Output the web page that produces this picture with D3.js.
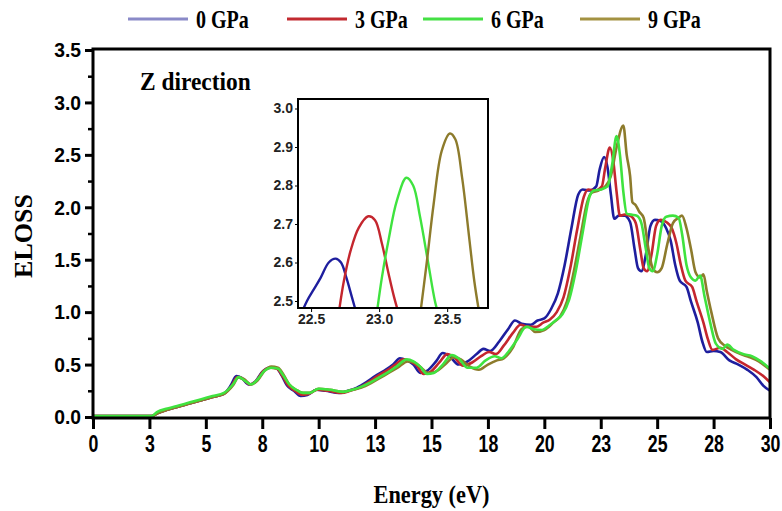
<!DOCTYPE html>
<html>
<head>
<meta charset="utf-8">
<script src="https://cdn.jsdelivr.net/npm/d3@7"></script>
<style>
  body { margin: 0; background: #fff; }
  svg { display: block; }
</style>
</head>
<body>
<svg id="chart" width="782" height="511"></svg>
<script>
// series names and colours
const seriesNames = ["0 GPa", "3 GPa", "6 GPa", "9 GPa"];
const xTickValues = [0, 2.5, 5, 7.5, 10, 12.5, 15, 17.5, 20, 22.5, 25, 27.5, 30];
const xTickLabels = ["0", "3", "5", "8", "10", "13", "15", "18", "20", "23", "25", "28", "30"];
const yTickValues = [0, 0.5, 1.0, 1.5, 2.0, 2.5, 3.0, 3.5];
const insetXTicks = [22.5, 23.0, 23.5];
const insetYTicks = [2.5, 2.6, 2.7, 2.8, 2.9, 3.0];

// [energy eV, ELOSS]
const eloss0 = [[0,0.01],[1,0.01],[2,0.01],[2.6,0.01],[2.9,0.04],[3.3,0.07],[3.8,0.1],[4.3,0.13],[4.8,0.16],[5.3,0.19],[5.8,0.22],[6.1,0.3],[6.35,0.39],[6.6,0.37],[6.9,0.31],[7.2,0.34],[7.5,0.43],[7.8,0.47],[8.1,0.47],[8.35,0.4],[8.6,0.3],[8.9,0.25],[9.2,0.2],[9.5,0.21],[9.9,0.26],[10.3,0.25],[10.9,0.23],[11.3,0.25],[11.7,0.28],[12.1,0.33],[12.5,0.39],[12.9,0.44],[13.3,0.5],[13.6,0.56],[13.9,0.54],[14.2,0.5],[14.5,0.42],[14.8,0.44],[15.2,0.53],[15.5,0.61],[15.8,0.58],[16.2,0.5],[16.6,0.53],[17.0,0.6],[17.3,0.65],[17.6,0.63],[18.0,0.72],[18.4,0.84],[18.7,0.92],[19.0,0.89],[19.4,0.88],[19.7,0.92],[20.0,0.94],[20.3,1.03],[20.6,1.18],[20.9,1.45],[21.2,1.8],[21.5,2.12],[21.7,2.17],[22.0,2.16],[22.3,2.2],[22.45,2.36],[22.65,2.48],[22.8,2.38],[22.95,2.12],[23.1,1.89],[23.3,1.92],[23.55,1.92],[23.8,1.86],[24.0,1.6],[24.15,1.42],[24.3,1.39],[24.5,1.55],[24.7,1.82],[24.9,1.88],[25.15,1.87],[25.4,1.8],[25.6,1.68],[25.8,1.45],[26.0,1.3],[26.3,1.24],[26.5,1.1],[26.8,0.9],[27.0,0.72],[27.2,0.62],[27.5,0.63],[27.8,0.62],[28.2,0.54],[28.6,0.5],[29.0,0.45],[29.4,0.38],[29.7,0.3],[30,0.25]];
const eloss3 = [[0,0.01],[2.6,0.01],[2.9,0.04],[3.3,0.07],[3.8,0.1],[4.3,0.13],[4.8,0.16],[5.3,0.19],[5.8,0.22],[6.15,0.3],[6.4,0.38],[6.65,0.36],[6.95,0.31],[7.25,0.35],[7.55,0.44],[7.85,0.47],[8.15,0.46],[8.4,0.39],[8.65,0.3],[8.95,0.25],[9.25,0.21],[9.55,0.22],[9.95,0.26],[10.4,0.25],[11.0,0.23],[11.4,0.25],[11.8,0.28],[12.2,0.33],[12.6,0.39],[13.0,0.44],[13.4,0.5],[13.75,0.55],[14.05,0.53],[14.35,0.49],[14.65,0.41],[14.95,0.43],[15.35,0.52],[15.7,0.6],[16.0,0.57],[16.4,0.49],[16.8,0.52],[17.2,0.58],[17.55,0.62],[17.85,0.6],[18.2,0.68],[18.6,0.8],[18.95,0.88],[19.25,0.86],[19.65,0.86],[19.95,0.9],[20.25,0.93],[20.55,1.0],[20.85,1.14],[21.15,1.42],[21.45,1.78],[21.75,2.1],[21.95,2.17],[22.25,2.16],[22.55,2.2],[22.7,2.38],[22.9,2.57],[23.05,2.45],[23.2,2.15],[23.35,1.92],[23.55,1.93],[23.8,1.92],[24.05,1.85],[24.25,1.6],[24.4,1.42],[24.55,1.39],[24.75,1.55],[24.95,1.82],[25.15,1.88],[25.4,1.86],[25.65,1.8],[25.85,1.66],[26.05,1.45],[26.25,1.3],[26.55,1.24],[26.75,1.1],[27.05,0.9],[27.25,0.74],[27.45,0.64],[27.8,0.66],[28.1,0.62],[28.5,0.55],[28.9,0.5],[29.3,0.45],[29.7,0.39],[30,0.33]];
const eloss6 = [[0,0.01],[2.6,0.01],[2.85,0.05],[3.3,0.08],[3.8,0.11],[4.3,0.14],[4.8,0.17],[5.3,0.2],[5.8,0.23],[6.2,0.31],[6.45,0.38],[6.7,0.35],[7.0,0.31],[7.3,0.36],[7.6,0.44],[7.9,0.47],[8.2,0.46],[8.45,0.39],[8.7,0.31],[9.0,0.26],[9.3,0.23],[9.6,0.23],[10.0,0.27],[10.5,0.26],[11.1,0.24],[11.5,0.26],[11.9,0.29],[12.3,0.33],[12.7,0.38],[13.1,0.43],[13.5,0.49],[13.9,0.55],[14.2,0.53],[14.5,0.48],[14.8,0.41],[15.1,0.42],[15.5,0.5],[15.9,0.59],[16.2,0.56],[16.6,0.47],[17.0,0.47],[17.4,0.54],[17.8,0.58],[18.1,0.56],[18.4,0.62],[18.8,0.74],[19.2,0.86],[19.5,0.84],[19.9,0.83],[20.2,0.87],[20.5,0.92],[20.8,0.98],[21.1,1.12],[21.4,1.4],[21.7,1.76],[22.0,2.1],[22.2,2.16],[22.5,2.17],[22.8,2.2],[23.0,2.4],[23.2,2.68],[23.35,2.5],[23.5,2.15],[23.65,1.94],[23.85,1.93],[24.1,1.92],[24.3,1.85],[24.5,1.6],[24.65,1.42],[24.8,1.39],[25.0,1.55],[25.2,1.82],[25.4,1.91],[25.7,1.92],[25.95,1.9],[26.1,1.75],[26.3,1.45],[26.5,1.33],[26.7,1.3],[26.9,1.35],[27.1,1.15],[27.35,0.9],[27.6,0.7],[27.9,0.65],[28.1,0.69],[28.4,0.64],[28.8,0.6],[29.2,0.58],[29.6,0.53],[30,0.46]];
const eloss9 = [[0,0.01],[2.6,0.01],[2.9,0.04],[3.3,0.07],[3.8,0.1],[4.3,0.13],[4.8,0.16],[5.3,0.19],[5.8,0.22],[6.2,0.3],[6.45,0.38],[6.7,0.36],[7.0,0.31],[7.3,0.35],[7.6,0.44],[7.9,0.48],[8.2,0.47],[8.45,0.4],[8.7,0.31],[9.0,0.26],[9.3,0.23],[9.6,0.23],[10.0,0.27],[10.5,0.26],[11.1,0.24],[11.5,0.26],[11.9,0.28],[12.3,0.32],[12.7,0.37],[13.1,0.42],[13.5,0.47],[13.95,0.53],[14.25,0.52],[14.55,0.47],[14.85,0.42],[15.15,0.43],[15.6,0.5],[16.0,0.57],[16.3,0.55],[16.7,0.48],[17.1,0.45],[17.5,0.5],[17.9,0.54],[18.2,0.56],[18.6,0.66],[19.0,0.84],[19.3,0.86],[19.6,0.81],[20.0,0.83],[20.4,0.9],[20.7,0.96],[21.0,1.1],[21.3,1.38],[21.6,1.72],[21.9,2.05],[22.1,2.14],[22.4,2.16],[22.7,2.2],[22.95,2.3],[23.2,2.57],[23.5,2.78],[23.65,2.5],[23.8,2.3],[23.9,2.05],[24.05,2.02],[24.2,1.96],[24.4,1.9],[24.6,1.62],[24.8,1.42],[25.0,1.38],[25.2,1.42],[25.45,1.65],[25.7,1.85],[25.95,1.9],[26.1,1.92],[26.3,1.8],[26.5,1.6],[26.7,1.38],[26.9,1.33],[27.05,1.36],[27.2,1.2],[27.4,1.0],[27.7,0.75],[28.0,0.68],[28.3,0.64],[28.7,0.6],[29.1,0.57],[29.5,0.53],[30,0.45]];

// zoomed peaks for the inset
const peak0 = [[22.42,2.46],[22.47,2.5],[22.52,2.53],[22.57,2.56],[22.63,2.6],[22.68,2.61],[22.72,2.6],[22.76,2.56],[22.8,2.51],[22.84,2.46]];
const peak3 = [[22.7,2.46],[22.74,2.55],[22.79,2.63],[22.85,2.69],[22.92,2.72],[22.97,2.71],[23.02,2.65],[23.07,2.57],[23.11,2.51],[23.15,2.46]];
const peak6 = [[22.98,2.46],[23.02,2.56],[23.07,2.66],[23.13,2.76],[23.2,2.82],[23.25,2.8],[23.3,2.72],[23.36,2.6],[23.41,2.5],[23.44,2.46]];
const peak9 = [[23.3,2.46],[23.35,2.6],[23.4,2.75],[23.46,2.89],[23.52,2.935],[23.56,2.92],[23.61,2.82],[23.66,2.67],[23.7,2.55],[23.74,2.46]];

const svg = d3.select("#chart");
const colors = ["#1e1e9e", "#c4262e", "#3fe33f", "#8d7b2c"];
const legendColors = ["#8a8ac8", "#c22a30", "#44e044", "#a39242"];
const serif = "'Liberation Serif', 'Times New Roman', serif";
const sans = "'Liberation Sans', Arial, sans-serif";

const plotL = 93, plotR = 770, plotT = 49, plotB = 418;
const x = d3.scaleLinear().domain([0, 30]).range([plotL, plotR]);
const y = d3.scaleLinear().domain([0, 3.5]).range([417, 50]);

const line = d3.line()
  .x(d => x(d[0]))
  .y(d => y(d[1]))
  .curve(d3.curveMonotoneX);

const main = [eloss0, eloss3, eloss9, eloss6];
const mainColors = [colors[0], colors[1], colors[3], colors[2]];

const defs = svg.append("defs");
defs.append("clipPath").attr("id", "plotclip")
  .append("rect").attr("x", plotL).attr("y", plotT).attr("width", plotR - plotL).attr("height", plotB - plotT);

svg.append("g").attr("clip-path", "url(#plotclip)")
  .selectAll("path").data(main).enter().append("path")
  .attr("d", line)
  .attr("fill", "none")
  .attr("stroke", (d, i) => mainColors[i])
  .attr("stroke-width", 2.6)
  .attr("stroke-linejoin", "round");

// frame
svg.append("rect")
  .attr("x", plotL).attr("y", plotT)
  .attr("width", plotR - plotL).attr("height", plotB - plotT)
  .attr("fill", "none").attr("stroke", "#000").attr("stroke-width", 3);

// x axis
const xAxis = svg.append("g")
  .attr("transform", `translate(0,${plotB})`)
  .call(d3.axisBottom(x).tickValues(xTickValues).tickSize(11).tickPadding(6)
    .tickFormat((d, i) => xTickLabels[i]));
xAxis.select(".domain").remove();
xAxis.selectAll("line").attr("stroke-width", 3);
xAxis.selectAll("text")
  .attr("transform", "scale(0.74,1)")
  .style("font-family", sans)
  .style("font-weight", "bold").style("font-size", "24px").attr("fill", "#000");

// y axis
const yAxis = svg.append("g")
  .attr("transform", `translate(${plotL},0)`)
  .call(d3.axisLeft(y).tickValues(yTickValues).tickSize(8).tickPadding(5)
    .tickFormat(d3.format(".1f")));
yAxis.select(".domain").remove();
yAxis.selectAll("line").attr("stroke-width", 3);
yAxis.selectAll("text")
  .attr("transform", "scale(0.92,1)")
  .style("font-family", sans)
  .style("font-weight", "bold").style("font-size", "21px").attr("fill", "#000");

const yMinor = svg.append("g")
  .attr("transform", `translate(${plotL},0)`)
  .call(d3.axisLeft(y).tickValues(yTickValues.slice(0, -1).map(v => v + 0.25)).tickSize(5).tickFormat(""));
yMinor.select(".domain").remove();
yMinor.selectAll("line").attr("stroke-width", 2.5);

// axis titles
svg.append("text")
  .attr("transform", `translate(${(plotL + plotR) / 2},503) scale(0.86,1)`)
  .attr("text-anchor", "middle")
  .style("font-family", serif)
  .style("font-weight", "bold").style("font-size", "26px")
  .text("Energy (eV)");

svg.append("text")
  .attr("transform", "translate(32,236) rotate(-90)")
  .attr("text-anchor", "middle")
  .style("font-family", serif)
  .style("font-weight", "bold").style("font-size", "26px")
  .text("ELOSS");

svg.append("text")
  .attr("transform", "translate(140,90) scale(0.9,1)")
  .style("font-family", serif)
  .style("font-weight", "bold").style("font-size", "26px")
  .text("Z direction");

// legend
const legendX = [128, 287, 423, 580];
const lg = svg.append("g").selectAll("g").data(seriesNames).enter().append("g")
  .attr("transform", (d, i) => `translate(${legendX[i]},19)`);
lg.append("line")
  .attr("x1", 0).attr("x2", 60).attr("y1", 0).attr("y2", 0)
  .attr("stroke", (d, i) => legendColors[i]).attr("stroke-width", 3);
lg.append("text")
  .attr("transform", "translate(68,9) scale(0.8,1)")
  .style("font-family", serif)
  .style("font-weight", "bold").style("font-size", "25px")
  .text(d => d);

// inset
const iL = 298, iR = 488, iT = 99, iB = 308;
const ix = d3.scaleLinear().domain([22.404, 23.8]).range([iL, iR]);
const iy = d3.scaleLinear().domain([2.5, 2.9]).range([301, 147]);

defs.append("clipPath").attr("id", "insetclip")
  .append("rect").attr("x", iL).attr("y", iT).attr("width", iR - iL).attr("height", iB - iT);

svg.append("rect")
  .attr("x", iL).attr("y", iT).attr("width", iR - iL).attr("height", iB - iT)
  .attr("fill", "#fff");

const insetLine = d3.line()
  .x(d => ix(d[0]))
  .y(d => iy(d[1]))
  .curve(d3.curveCatmullRom);

svg.append("g").attr("clip-path", "url(#insetclip)")
  .selectAll("path").data([peak0, peak3, peak6, peak9]).enter().append("path")
  .attr("d", insetLine)
  .attr("fill", "none")
  .attr("stroke", (d, i) => colors[i])
  .attr("stroke-width", 2.4);

svg.append("rect")
  .attr("x", iL).attr("y", iT).attr("width", iR - iL).attr("height", iB - iT)
  .attr("fill", "none").attr("stroke", "#000").attr("stroke-width", 2);

const ixAxis = svg.append("g")
  .attr("transform", `translate(0,${iB})`)
  .call(d3.axisBottom(ix).tickValues(insetXTicks).tickSize(4).tickPadding(2).tickFormat(d3.format(".1f")));
ixAxis.select(".domain").remove();
ixAxis.selectAll("text")
  .style("font-family", sans)
  .style("font-weight", "bold").style("font-size", "14px").attr("fill", "#222");

const iyAxis = svg.append("g")
  .attr("transform", `translate(${iL},0)`)
  .call(d3.axisLeft(iy).tickValues(insetYTicks).tickSize(3).tickPadding(2).tickFormat(d3.format(".1f")));
iyAxis.select(".domain").remove();
iyAxis.selectAll("text")
  .style("font-family", sans)
  .style("font-weight", "bold").style("font-size", "14px").attr("fill", "#222");
</script>
</body>
</html>
